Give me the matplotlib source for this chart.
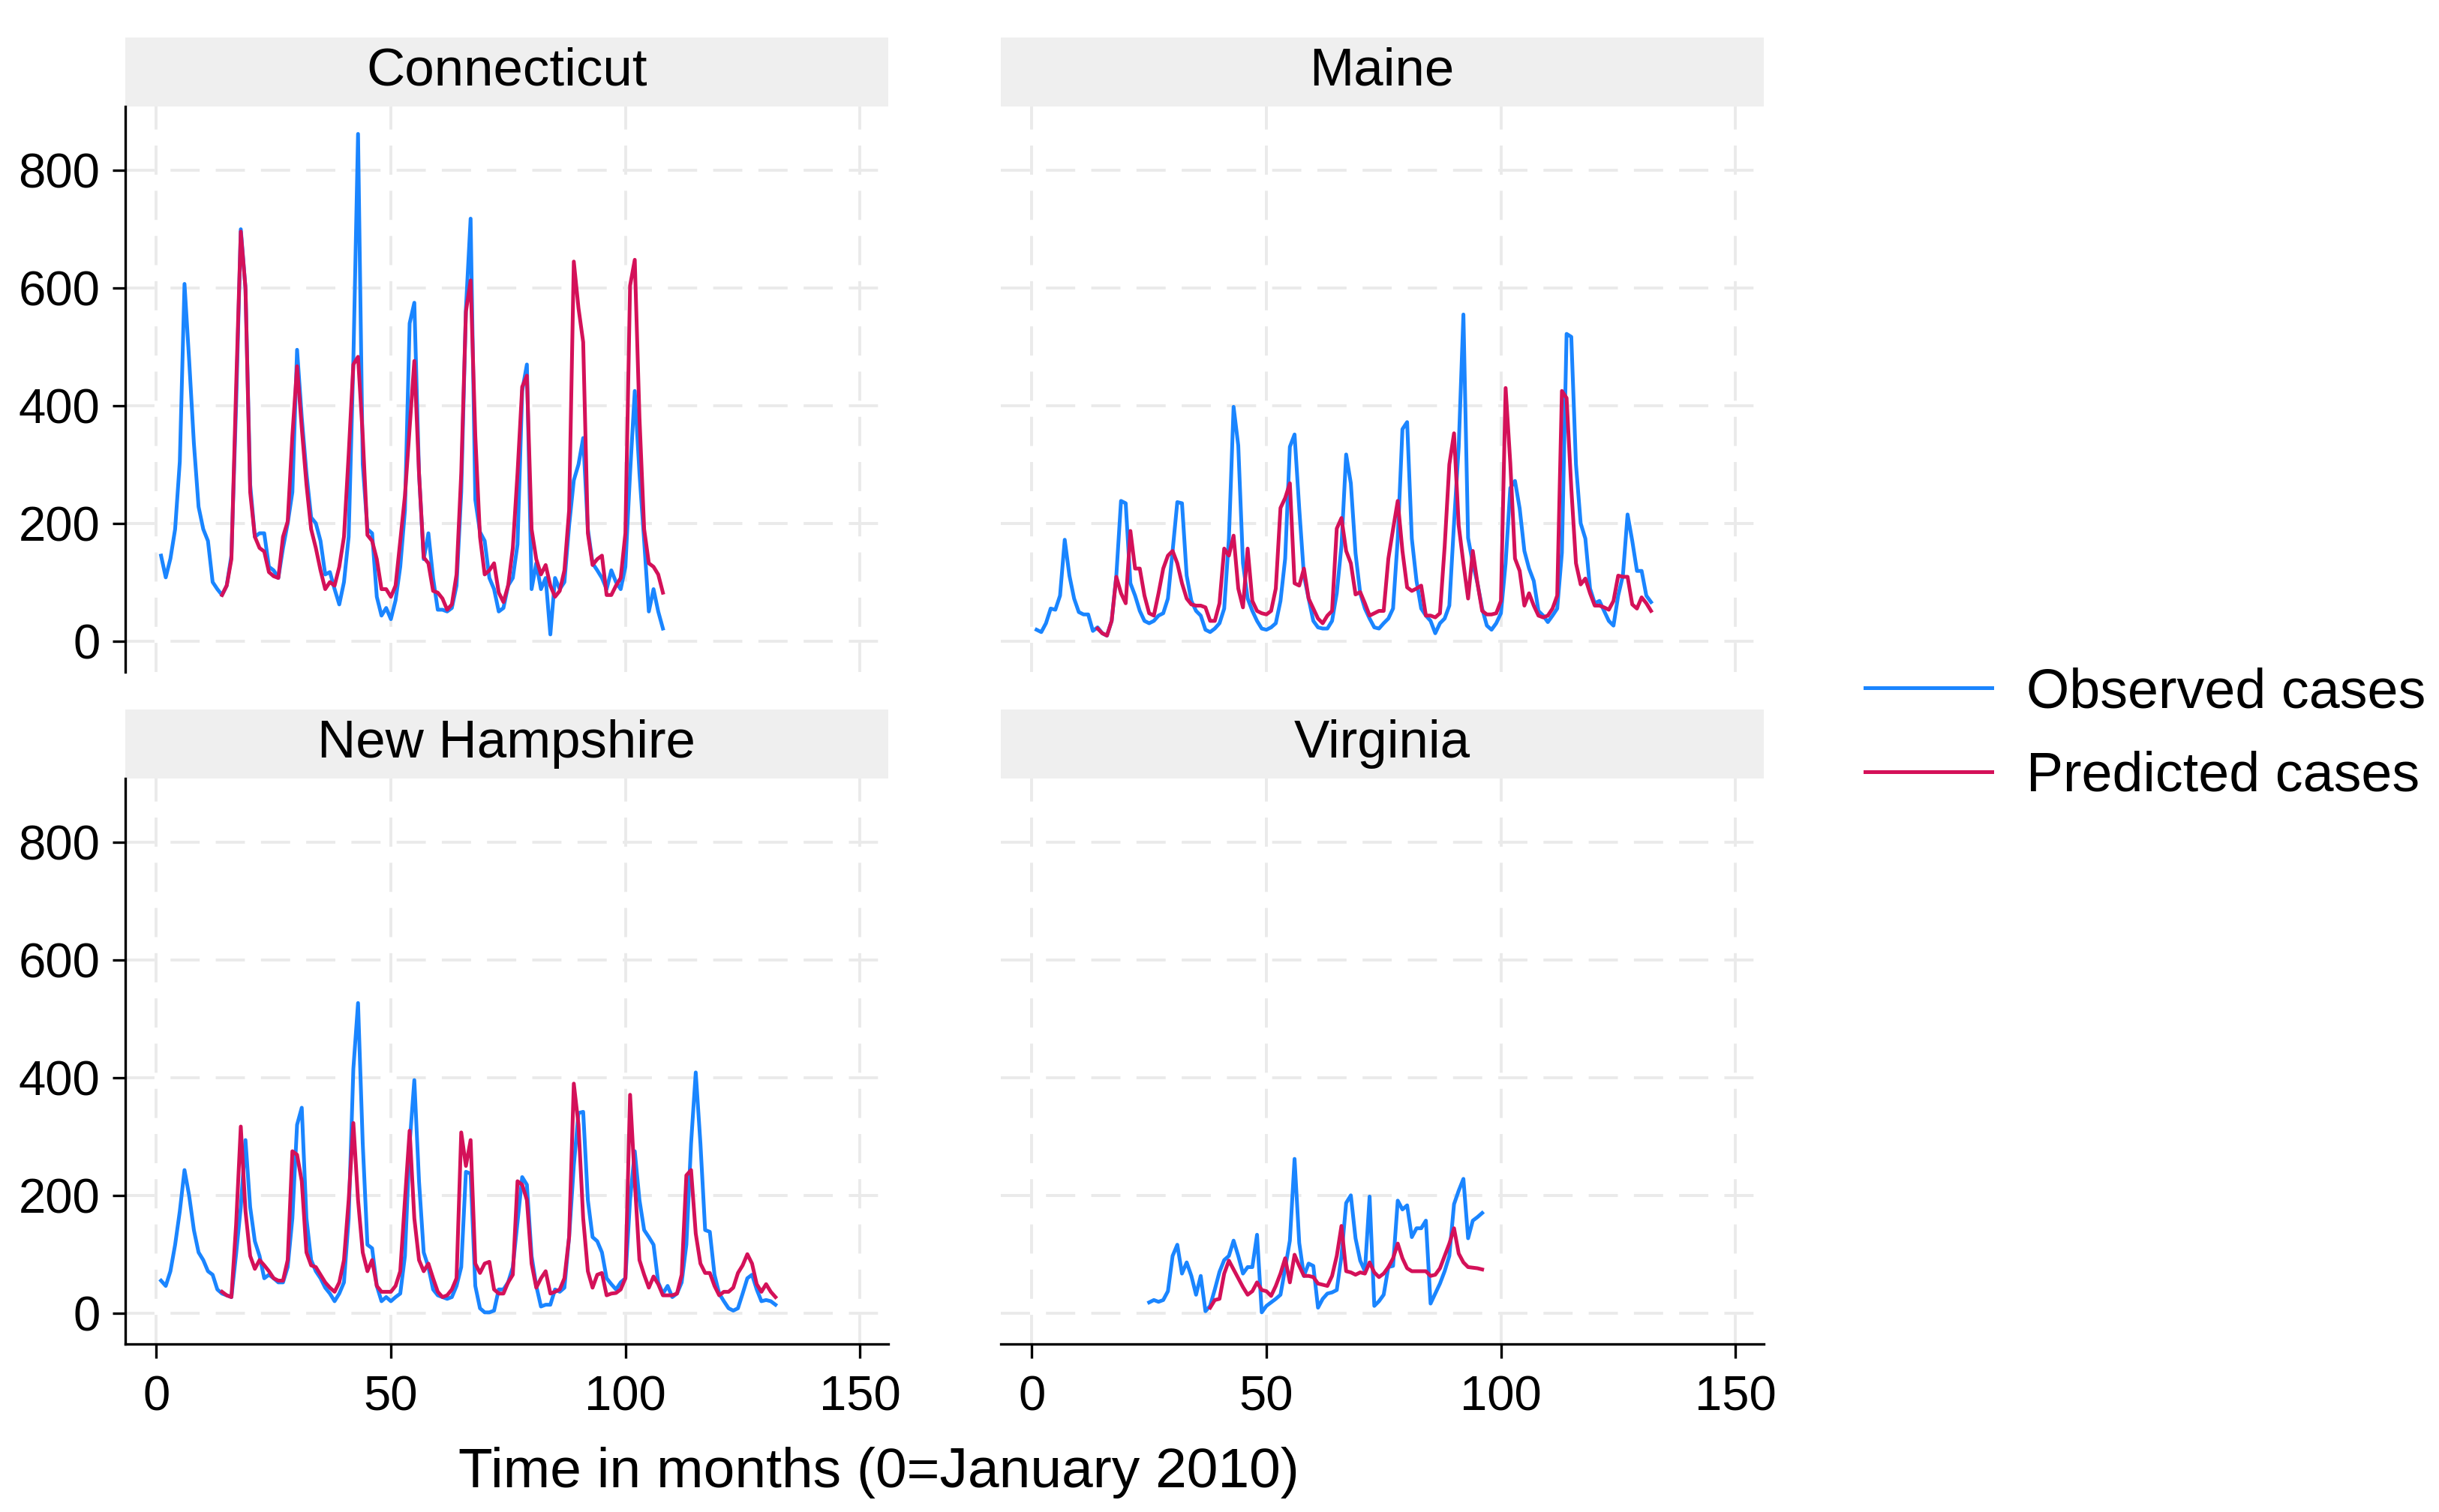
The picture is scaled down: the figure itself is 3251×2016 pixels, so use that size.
import numpy as np
import matplotlib
matplotlib.use('Agg')
import matplotlib.pyplot as plt
from matplotlib.patches import Rectangle
from matplotlib.lines import Line2D

plt.rcParams['font.family'] = ['Liberation Sans', 'DejaVu Sans']

# monthly case counts, month 0 = January 2010
ct_obs_start = 1
ct_obs = [145, 108, 140, 190, 305, 607, 476, 336, 228, 190, 170, 100, 88, 78, 94, 145, 400, 700, 600, 266,
          177, 183, 183, 126, 120, 107, 158, 200, 253, 495, 380, 285, 210, 200, 170, 113, 117, 88, 62, 100,
          177, 476, 862, 300, 190, 183, 75, 43, 56, 37, 69, 126, 222, 540, 575, 285, 139, 183, 107, 53,
          53, 50, 56, 94, 253, 565, 718, 240, 185, 170, 107, 88, 50, 56, 94, 107, 164, 425, 470, 88,
          132, 88, 107, 11, 107, 88, 100, 196, 273, 300, 345, 190, 132, 120, 107, 88, 120, 100, 88, 126,
          285, 425, 285, 170, 50, 88, 50, 21]
ct_pred_start = 14
ct_pred = [78, 94, 139, 430, 696, 600, 253, 177, 158, 152, 117, 110, 107, 177, 203, 349, 467, 362, 266, 190,
           158, 120, 88, 100, 94, 126, 177, 317, 470, 483, 349, 180, 170, 139, 88, 88, 75, 94, 170, 247,
           362, 476, 285, 142, 132, 85, 82, 72, 53, 62, 113, 285, 560, 613, 349, 177, 113, 120, 132, 82,
           66, 94, 158, 285, 432, 451, 190, 139, 113, 129, 94, 75, 85, 120, 222, 645, 566, 508, 183, 129,
           139, 145, 78, 78, 94, 107, 183, 604, 648, 380, 190, 132, 126, 113, 82]

me_obs_start = 1
me_obs = [19, 15, 30, 55, 53, 77, 172, 111, 72, 49, 45, 45, 17, 23, 13, 9, 34, 111, 238, 234,
          98, 77, 51, 34, 30, 34, 43, 47, 72, 153, 236, 234, 111, 68, 51, 43, 19, 15, 21, 30,
          55, 174, 398, 332, 132, 72, 51, 34, 21, 19, 23, 30, 68, 140, 330, 351, 225, 111, 72, 34,
          23, 21, 21, 34, 81, 162, 317, 268, 149, 81, 55, 38, 23, 21, 30, 38, 55, 174, 360, 372,
          174, 102, 55, 43, 34, 13, 30, 38, 60, 200, 330, 555, 175, 132, 98, 55, 26, 19, 30, 47,
          132, 260, 272, 225, 153, 123, 102, 51, 43, 32, 43, 55, 150, 522, 517, 300, 200, 174, 89, 64,
          68, 51, 34, 26, 77, 111, 215, 170, 119, 119, 77, 66]
me_pred_start = 14
me_pred = [21, 13, 9, 34, 109, 81, 64, 187, 123, 123, 77, 47, 43, 81, 123, 145, 153, 132, 98, 72,
           62, 60, 60, 57, 34, 34, 64, 157, 145, 179, 89, 57, 157, 68, 51, 47, 45, 51, 89, 226,
           243, 268, 98, 94, 123, 72, 55, 38, 30, 43, 51, 191, 209, 153, 132, 79, 83, 64, 43, 47,
           51, 51, 140, 190, 238, 153, 91, 85, 89, 94, 43, 43, 40, 47, 160, 300, 353, 196, 132, 72,
           153, 98, 51, 45, 45, 47, 68, 430, 302, 140, 119, 60, 81, 60, 43, 40, 43, 55, 77, 425,
           413, 260, 132, 96, 106, 81, 60, 60, 57, 53, 68, 111, 109, 109, 62, 55, 74, 64, 51]

nh_obs_start = 1
nh_obs = [55, 46, 71, 116, 173, 243, 199, 141, 103, 90, 71, 65, 40, 33, 30, 27, 100, 180, 294, 180,
          122, 97, 59, 65, 59, 52, 52, 78, 161, 320, 349, 161, 90, 71, 59, 43, 33, 20, 33, 52,
          161, 415, 527, 288, 116, 110, 46, 20, 27, 20, 27, 33, 97, 288, 396, 224, 103, 78, 40, 30,
          27, 24, 27, 46, 78, 240, 237, 46, 8, 1, 1, 4, 40, 40, 52, 78, 154, 231, 218, 97,
          46, 11, 14, 14, 40, 36, 43, 129, 250, 340, 342, 192, 129, 122, 103, 59, 49, 40, 52, 59,
          192, 275, 192, 141, 129, 116, 52, 33, 46, 27, 33, 52, 116, 288, 409, 288, 141, 138, 65, 33,
          20, 8, 4, 8, 33, 59, 65, 40, 20, 22, 20, 14]
nh_pred_start = 14
nh_pred = [36, 30, 27, 150, 317, 173, 97, 75, 90, 81, 71, 59, 55, 55, 90, 275, 269, 224, 103, 81,
           78, 65, 52, 43, 36, 52, 90, 192, 323, 192, 103, 71, 90, 46, 36, 36, 36, 46, 71, 192,
           310, 161, 90, 71, 84, 59, 36, 27, 30, 40, 59, 307, 250, 294, 84, 68, 84, 87, 40, 33,
           33, 52, 65, 224, 218, 192, 84, 43, 59, 71, 33, 36, 40, 59, 129, 390, 320, 161, 71, 43,
           65, 68, 30, 33, 34, 40, 59, 371, 224, 90, 65, 43, 62, 49, 30, 30, 30, 33, 65, 234,
           243, 135, 84, 68, 68, 46, 30, 36, 36, 43, 68, 81, 100, 84, 49, 36, 49, 36, 27]

va_obs_start = 25
va_obs = [18, 22, 19, 22, 37, 97, 116, 67, 86, 63, 31, 63, 3, 12, 40, 70, 90, 97, 123, 97,
          67, 78, 78, 133, 1, 12, 18, 24, 31, 76, 123, 262, 119, 63, 84, 80, 9, 24, 33, 35,
          39, 97, 187, 200, 127, 89, 71, 198, 12, 20, 31, 78, 80, 191, 176, 183, 129, 144, 144, 157,
          16, 33, 50, 71, 97, 185, 208, 228, 127, 157, 163, 170]
va_pred_start = 38
va_pred = [9, 22, 24, 67, 89, 74, 59, 44, 31, 37, 52, 39, 37, 29, 46, 67, 93, 52, 99, 80,
           63, 63, 61, 50, 48, 46, 63, 97, 148, 71, 69, 65, 69, 67, 86, 69, 61, 67, 78, 93,
           118, 93, 76, 71, 71, 71, 71, 63, 65, 76, 97, 118, 144, 101, 86, 78, 77, 76, 74]

states = ['Connecticut', 'Maine', 'New Hampshire', 'Virginia']
observed = [(ct_obs_start, ct_obs), (me_obs_start, me_obs), (nh_obs_start, nh_obs), (va_obs_start, va_obs)]
predicted = [(ct_pred_start, ct_pred), (me_pred_start, me_pred), (nh_pred_start, nh_pred), (va_pred_start, va_pred)]

blue = '#1A85FF'
red = '#D41159'
grid_col = '#EAEAEA'
lw = 1.8

fig = plt.figure(figsize=(16.255, 10.08), dpi=200)
W, H = 1560.0, 967.4

def rect(x0, y0, x1, y1):
    return [x0 / W, 1 - y1 / H, (x1 - x0) / W, (y1 - y0) / H]

boxes = [(80, 68, 568, 430), (640, 68, 1128, 430), (80, 498, 568, 860), (640, 498, 1128, 860)]

for i, name in enumerate(states):
    ax = fig.add_axes(rect(*boxes[i]))
    s, v = observed[i]
    ax.plot(np.arange(s, s + len(v)), v, color=blue, lw=lw, zorder=3)
    s, v = predicted[i]
    ax.plot(np.arange(s, s + len(v)), v, color=red, lw=lw, zorder=4)

    ax.set_xlim(-6.67, 156.0)
    ax.set_ylim(-53, 909)
    ax.set_xticks([0, 50, 100, 150])
    ax.set_yticks([0, 200, 400, 600, 800])
    ax.grid(True, color=grid_col, lw=1.4, linestyle=(0, (10, 5.5)), zorder=0)
    ax.set_axisbelow(True)

    for sp in ['top', 'right']:
        ax.spines[sp].set_visible(False)
    left_col = i in [0, 2]
    bottom_row = i in [2, 3]
    ax.spines['left'].set_visible(left_col)
    ax.spines['bottom'].set_visible(bottom_row)
    for sp in ['left', 'bottom']:
        ax.spines[sp].set_linewidth(1.2)

    ax.tick_params(axis='y', left=left_col, labelleft=left_col, length=6, width=1.2,
                   labelsize=23.5, pad=6)
    ax.tick_params(axis='x', bottom=bottom_row, labelbottom=bottom_row, length=7, width=1.2,
                   labelsize=23.5, pad=8)

    # strip header
    sh = 44.0 / 362.0
    ax.add_patch(Rectangle((0, 1), 1, sh, transform=ax.transAxes, facecolor='#EFEFEF',
                           edgecolor='none', clip_on=False, zorder=1))
    ax.text(0.5, 1 + sh / 2, name, transform=ax.transAxes, ha='center', va='center',
            fontsize=25.5, color='black')

fig.text(562 / W, 1 - 942 / H, 'Time in months (0=January 2010)', ha='center', va='center',
         fontsize=27)

handles = [Line2D([], [], color=blue, lw=lw), Line2D([], [], color=red, lw=lw)]
fig.legend(handles, ['Observed cases', 'Predicted cases'], loc='center left',
           bbox_to_anchor=(1193 / W, 1 - 470 / H), frameon=False, fontsize=26.5,
           handlelength=2.3, handletextpad=0.62, labelspacing=0.58, borderpad=0, borderaxespad=0)

fig.savefig('out.png', dpi=200)
